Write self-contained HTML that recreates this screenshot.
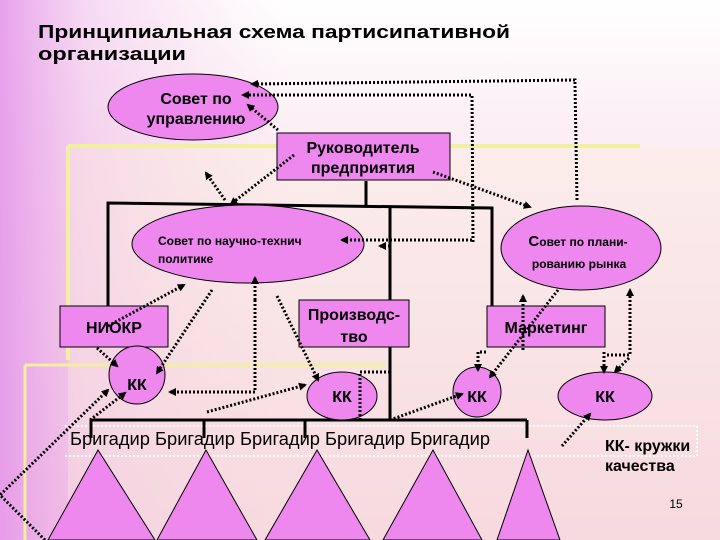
<!DOCTYPE html>
<html><head><meta charset="utf-8"><style>
html,body{margin:0;padding:0}
body{width:720px;height:540px;overflow:hidden;background:#f8e4ee}
svg{display:block}
text{font-family:"Liberation Sans",sans-serif;fill:#000}
</style></head><body>
<svg width="720" height="540" viewBox="0 0 720 540" xmlns="http://www.w3.org/2000/svg">
<defs>
<linearGradient id="v" x1="0" y1="0" x2="0" y2="1">
<stop offset="0" stop-color="#ffffff"/><stop offset="0.25" stop-color="#fbeef4"/><stop offset="1" stop-color="#f4cfe0"/>
</linearGradient>
<linearGradient id="h" x1="0" y1="0" x2="1" y2="0">
<stop offset="0" stop-color="#e596ea" stop-opacity="0.9"/><stop offset="0.12" stop-color="#eeb4e8" stop-opacity="0.5"/><stop offset="0.4" stop-color="#f4cfe0" stop-opacity="0"/>
</linearGradient>
<marker id="a" markerWidth="8" markerHeight="8" refX="6" refY="4" orient="auto" markerUnits="userSpaceOnUse"><path d="M0,0 L8,4 L0,8 z" fill="#000"/></marker>
</defs>
<rect width="720" height="540" fill="url(#v)"/>
<rect width="720" height="540" fill="url(#h)"/>
<rect x="68" y="146" width="652" height="394" fill="#fbeedd" opacity="0.35"/>
<g stroke="#f0f0a0" stroke-width="4" fill="none">
<line x1="68" y1="146" x2="640" y2="146"/><line x1="68" y1="146" x2="68" y2="360"/>
<line x1="25" y1="365" x2="385" y2="365" stroke-width="3"/><line x1="25" y1="365" x2="25" y2="540" stroke-width="3"/>
</g>
<g stroke="#fff" stroke-width="2" stroke-dasharray="2,2" fill="none">
<line x1="65" y1="426" x2="697" y2="426"/><line x1="65" y1="456" x2="697" y2="456"/><line x1="697" y1="426" x2="697" y2="456"/>
</g>
<text x="38" y="38" font-size="18" font-weight="bold" textLength="472" lengthAdjust="spacingAndGlyphs">Принципиальная схема партисипативной</text>
<text x="38" y="60" font-size="18" font-weight="bold" textLength="148" lengthAdjust="spacingAndGlyphs">организации</text>
<g stroke="#000" stroke-width="3" fill="none">
<line x1="366" y1="181" x2="366" y2="205"/>
<polyline points="108,306 108,203 492,208 492,306"/>
<line x1="390" y1="208" x2="390" y2="420"/>
<line x1="90" y1="420" x2="527" y2="420"/>
<line x1="91" y1="420" x2="91" y2="438"/><line x1="204" y1="420" x2="204" y2="438"/><line x1="305" y1="420" x2="305" y2="438"/><line x1="527" y1="420" x2="527" y2="438"/>
</g>
<g fill="#ee88ee" stroke="#000" stroke-width="1">
<polygon points="98,450 48,540 155,540"/><polygon points="206,450 157,540 257,540"/><polygon points="317,450 265,540 370,540"/><polygon points="433,450 383,540 482,540"/><polygon points="528,450 497,540 560,540"/>
</g>
<g fill="#ee88ee" stroke="#000" stroke-width="1">
<ellipse cx="193" cy="107" rx="85" ry="33"/>
<rect x="277" y="133" width="173" height="47"/>
<ellipse cx="248" cy="244" rx="116" ry="39"/>
<ellipse cx="581" cy="248" rx="80" ry="42"/>
<rect x="60" y="306" width="108" height="41"/>
<rect x="299" y="300" width="110" height="47"/>
<rect x="487" y="306" width="118" height="41"/>
<ellipse cx="137" cy="375" rx="28" ry="29"/>
<ellipse cx="342" cy="396" rx="35" ry="24"/>
<ellipse cx="477" cy="392" rx="24" ry="25"/>
<ellipse cx="605" cy="396" rx="47" ry="24"/>
</g>
<g stroke="#000" stroke-width="3" stroke-dasharray="2,2" fill="none" marker-end="url(#a)">
<polyline points="577,200 575,84 575,80 252,84"/>
<polyline points="473,242 472,95 243,95"/>
<polyline points="472,240 342,240"/>
<polyline points="390,246 380,246"/>
<line x1="278" y1="130" x2="248" y2="105"/>
<line x1="225" y1="200" x2="206" y2="173"/>
<line x1="294" y1="155" x2="231" y2="204"/>
<line x1="433" y1="172" x2="530" y2="207"/>
<line x1="108" y1="326" x2="184" y2="285"/>
<line x1="97" y1="348" x2="117" y2="366"/>
<line x1="212" y1="290" x2="157" y2="373"/>
<polyline points="255,300 255,392 170,392"/>
<line x1="255" y1="300" x2="255" y2="278"/>
<line x1="277" y1="296" x2="318" y2="380"/>
<line x1="207" y1="412" x2="305" y2="385"/>
<polyline points="360,420 360,372 390,372" marker-end="none"/>
<line x1="523" y1="350" x2="523" y2="296"/>
<line x1="558" y1="290" x2="490" y2="377"/>
<polyline points="607,355 630,355 630,290"/>
<polyline points="486,352 478,352 478,370"/>
<polyline points="604,352 604,372"/>
<line x1="629" y1="358" x2="615" y2="372"/>
<line x1="562" y1="446" x2="590" y2="414"/>
<line x1="390" y1="420" x2="462" y2="394"/>
<polyline points="45,540 0,495 108,390"/>
<line x1="90" y1="420" x2="125" y2="393"/>
</g>
<g font-weight="bold" text-anchor="middle">
<text x="196" y="104" font-size="16">Совет по</text>
<text x="196" y="124" font-size="16">управлению</text>
<text x="363" y="153" font-size="16">Руководитель</text>
<text x="363" y="173" font-size="16">предприятия</text>
<text x="158" y="245" font-size="12" text-anchor="start">Совет по научно-технич</text>
<text x="158" y="263" font-size="12" text-anchor="start">политике</text>
<text x="578" y="246" font-size="12"><tspan font-size="15">С</tspan>овет по плани-</text>
<text x="579" y="268" font-size="12">рованию рынка</text>
<text x="114" y="333" font-size="16">НИОКР</text>
<text x="354" y="320" font-size="16">Производс-</text>
<text x="354" y="342" font-size="16">тво</text>
<text x="546" y="333" font-size="16">Маркетинг</text>
<text x="137" y="390" font-size="16">КК</text>
<text x="342" y="402" font-size="16">КК</text>
<text x="477" y="402" font-size="16">КК</text>
<text x="605" y="402" font-size="16">КК</text>
<text x="605" y="451" font-size="16" text-anchor="start">КК- кружки</text>
<text x="605" y="471" font-size="16" text-anchor="start">качества</text>
</g>
<text x="70" y="445" font-size="18" textLength="420" lengthAdjust="spacingAndGlyphs">Бригадир Бригадир Бригадир Бригадир Бригадир</text>
<text x="676" y="508" font-size="12" text-anchor="middle">15</text>
</svg>
</body></html>
